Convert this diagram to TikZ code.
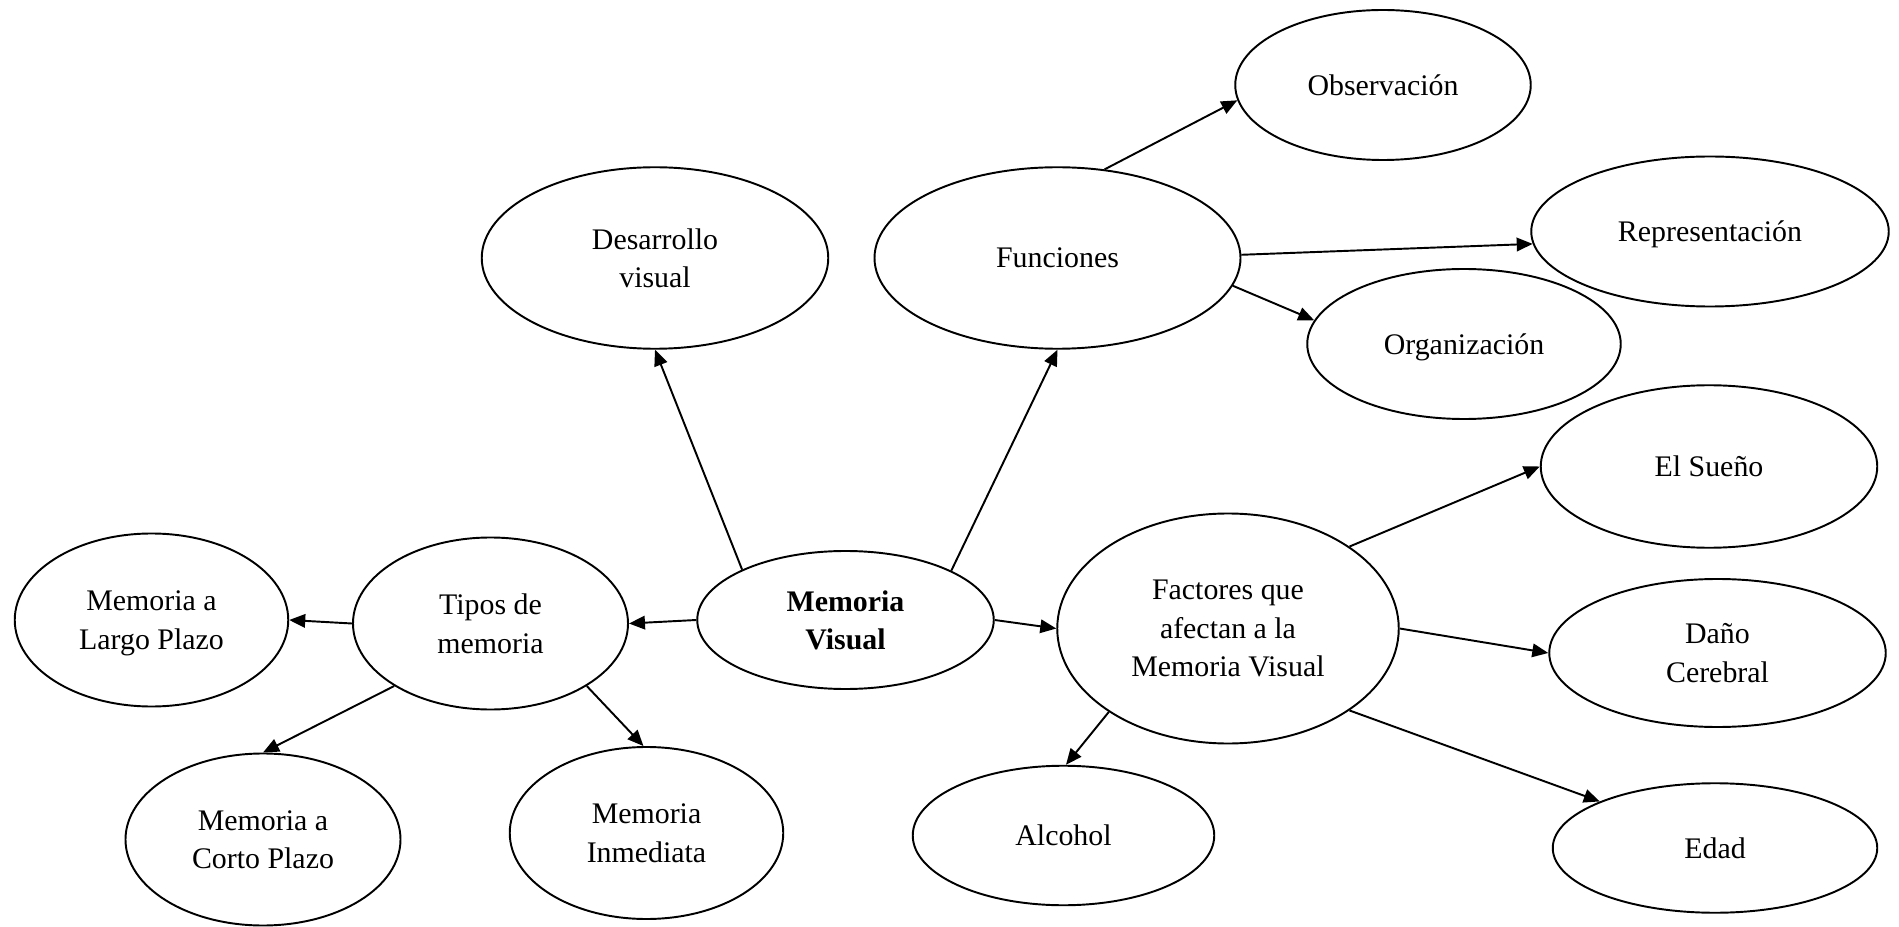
\documentclass[tikz,border=0pt]{standalone}
\usepackage{fontspec}
\setmainfont{Liberation Serif}
\usetikzlibrary{shapes.geometric,arrows.meta}

\begin{document}
\begin{tikzpicture}[
        bubble/.style={ellipse, draw, line width=1.1pt, inner sep=0pt, text depth=0pt, align=center, font=\fontsize{17}{21.8}\selectfont},
        arrow/.style={-{Triangle[length=0.32cm,width=0.27cm]}, line width=1.1pt}
    ]
        \useasboundingbox (0,0) rectangle (37.98,-18.54);

        \node[bubble, minimum width=5.93cm, minimum height=2.76cm, font=\fontsize{17}{21.8}\selectfont\bfseries] (mv) at (16.91,-12.40) {Memoria\\Visual};

        \node[bubble, minimum width=6.93cm, minimum height=3.63cm] (des) at (13.10,-5.16) {Desarrollo\\visual};
        \node[bubble, minimum width=7.32cm, minimum height=3.63cm] (fun) at (21.15,-5.16) {Funciones};
        \node[bubble, minimum width=5.91cm, minimum height=3.00cm] (obs) at (27.66,-1.70) {Observación};
        \node[bubble, minimum width=7.15cm, minimum height=3.00cm] (rep) at (34.20,-4.63) {Representación};
        \node[bubble, minimum width=6.27cm, minimum height=3.00cm] (org) at (29.28,-6.88) {Organización};

        \node[bubble, minimum width=6.83cm, minimum height=4.60cm] (fac) at (24.56,-12.57) {Factores que\\afectan a la\\Memoria Visual};
        \node[bubble, minimum width=6.73cm, minimum height=3.25cm] (sue) at (34.18,-9.33) {El Sueño};
        \node[bubble, minimum width=6.73cm, minimum height=2.96cm] (dano) at (34.35,-13.06) {Daño\\Cerebral};
        \node[bubble, minimum width=6.49cm, minimum height=2.59cm] (edad) at (34.30,-16.96) {Edad};
        \node[bubble, minimum width=6.03cm, minimum height=2.79cm] (alc) at (21.27,-16.71) {Alcohol};

        \node[bubble, minimum width=5.50cm, minimum height=3.44cm] (tip) at (9.81,-12.47) {Tipos de\\memoria};
        \node[bubble, minimum width=5.47cm, minimum height=3.46cm] (lar) at (3.03,-12.40) {Memoria a\\Largo Plazo};
        \node[bubble, minimum width=5.50cm, minimum height=3.44cm] (cor) at (5.26,-16.79) {Memoria a\\Corto Plazo};
        \node[bubble, minimum width=5.47cm, minimum height=3.44cm] (inm) at (12.93,-16.66) {Memoria\\Inmediata};

        \draw[arrow] (mv.154) -- (des.-90);
        \draw[arrow] (mv.25) -- (fun.-90);
        \draw[arrow] (mv.180) -- (tip.0);
        \draw[arrow] (mv.0) -- (fac.180);

        \draw[arrow] (fun.62) -- (obs.186);
        \draw[arrow] (fun.1) -- (rep.184);
        \draw[arrow] (fun.-9) -- (org.171);

        \draw[arrow] (fac.34) -- (sue.180);
        \draw[arrow] (fac.0) -- (dano.180);
        \draw[arrow] (fac.-34) -- (edad.158);
        \draw[arrow] (fac.-145) -- (alc.88);

        \draw[arrow] (tip.180) -- (lar.0);
        \draw[arrow] (tip.213) -- (cor.90);
        \draw[arrow] (tip.-33) -- (inm.92);
    \end{tikzpicture}
\end{document}
